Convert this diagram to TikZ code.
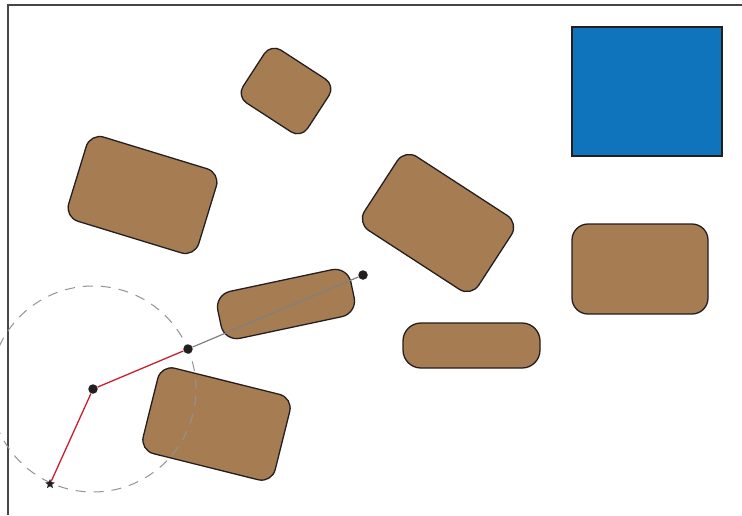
\documentclass[tikz,border=0pt]{standalone}
\usepackage{tikz}
\usetikzlibrary{shapes.geometric}
\definecolor{obstacleBrown}{RGB}{166,124,82}
\definecolor{goalBlue}{RGB}{16,116,188}
\definecolor{linkRed}{RGB}{200,30,45}
\definecolor{edgeDark}{RGB}{35,31,32}
\definecolor{frameGray}{RGB}{70,70,70}

\begin{document}
\begin{tikzpicture}[x=1pt, y=-1pt,
    obstacle/.style={rectangle, rounded corners=14pt, draw=edgeDark, fill=obstacleBrown,
      line width=1.3pt, inner sep=0pt, outer sep=0pt, minimum width=136pt, minimum height=88pt},
    joint/.style={circle, fill=edgeDark, inner sep=0pt, minimum size=9.5pt},
    link/.style={linkRed, line width=1.3pt},
    reach/.style={gray!85, line width=1pt, dash pattern=on 10pt off 8pt}
  ]
  \useasboundingbox (0,0) rectangle (742,515);
  % Workspace border
  \draw[frameGray, line width=1.5pt] (8,515) -- (8,5) -- (742,5);
  % Goal region
  \node[rectangle, draw=edgeDark, fill=goalBlue, line width=1.1pt, inner sep=0pt,
    minimum width=150pt, minimum height=129pt] (goal) at (647,91.5) {};
  % Obstacles
  \node[obstacle, minimum width=77pt, minimum height=63pt, rounded corners=12pt, rotate=-33] (obsA) at (286,91) {};
  \node[obstacle, rotate=-17] (obsB) at (142.5,195) {};
  \node[obstacle, rotate=-33] (obsC) at (438,223) {};
  \node[obstacle, minimum width=136pt, minimum height=90pt, rounded corners=16pt] (obsD) at (640,269) {};
  \node[obstacle, minimum width=137pt, minimum height=45pt, rounded corners=18pt] (obsE) at (471.5,345.5) {};
  \node[obstacle, minimum height=48pt, rounded corners=16pt, rotate=12] (obsF) at (286,304) {};
  \node[obstacle, rotate=-14] (obsG) at (216.5,424) {};
  % Reach of the second link
  \draw[reach] (93,389) circle[radius=103pt];
  % Arm
  \node[star, star points=5, star point ratio=2.2, fill=edgeDark, inner sep=0pt, minimum size=10pt] (base) at (50,484) {};
  \node[joint] (j1) at (93,389) {};
  \node[joint] (j2) at (188,349) {};
  \node[joint] (tip) at (363,275) {};
  \draw[link] (base) -- (j1) -- (j2);
  \draw[gray, line width=1.2pt] (j2) -- (tip);
\end{tikzpicture}
\end{document}
